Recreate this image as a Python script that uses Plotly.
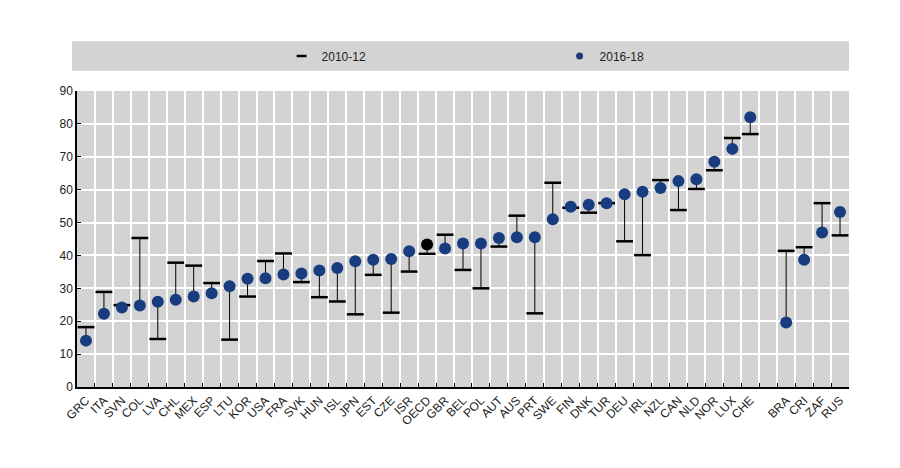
import plotly.graph_objects as go

countries = ["GRC", "ITA", "SVN", "COL", "LVA", "CHL", "MEX", "ESP", "LTU", "KOR",
             "USA", "FRA", "SVK", "HUN", "ISL", "JPN", "EST", "CZE", "ISR", "OECD",
             "GBR", "BEL", "POL", "AUT", "AUS", "PRT", "SWE", "FIN", "DNK", "TUR",
             "DEU", "IRL", "NZL", "CAN", "NLD", "NOR", "LUX", "CHE",
             "BRA", "CRI", "ZAF", "RUS"]
v2010_12 = [18.2, 28.9, 24.9, 45.3, 14.6, 37.8, 36.9, 31.6, 14.4, 27.5,
            38.3, 40.6, 31.9, 27.3, 26.0, 22.1, 34.1, 22.6, 35.1, 40.5,
            46.3, 35.6, 30.0, 42.7, 52.1, 22.4, 62.1, 54.5, 53.0, 55.9,
            44.3, 40.1, 62.9, 53.8, 60.2, 65.9, 75.7, 76.9,
            41.4, 42.5, 55.9, 46.1]
v2016_18 = [14.1, 22.3, 24.2, 24.8, 25.9, 26.5, 27.5, 28.5, 30.6, 32.9,
            33.1, 34.2, 34.5, 35.4, 36.2, 38.2, 38.7, 38.9, 41.3, 43.3,
            42.1, 43.6, 43.6, 45.3, 45.5, 45.5, 51.0, 54.8, 55.4, 55.9,
            58.6, 59.4, 60.5, 62.6, 63.2, 68.5, 72.4, 82.0,
            19.6, 38.7, 47.0, 53.2]
category_order = countries[:38] + [" "] + countries[38:]

NAVY = "#173c80"
dot_colors = ["#000000" if c == "OECD" else NAVY for c in countries]

lx, ly = [], []
for c, a, b in zip(countries, v2010_12, v2016_18):
    lx += [c, c, None]
    ly += [a, b, None]

fig = go.Figure()
fig.add_trace(go.Scatter(x=lx, y=ly, mode="lines", line=dict(color="#000000", width=1),
                         showlegend=False, hoverinfo="skip"))
fig.add_trace(go.Scatter(x=countries, y=v2010_12, mode="markers", name="2010-12",
                         marker=dict(symbol="line-ew-open", size=12, color="#000000",
                                     line=dict(color="#000000", width=2.5)),
                         showlegend=False))
fig.add_trace(go.Scatter(x=countries, y=v2016_18, mode="markers", name="2016-18",
                         marker=dict(symbol="circle", size=12, color=dot_colors,
                                     line=dict(width=0)),
                         showlegend=False))
# legend entries
fig.add_trace(go.Scatter(x=[None], y=[None], mode="markers", name="2010-12",
                         marker=dict(symbol="line-ew-open", size=7, color="#000000",
                                     line=dict(color="#000000", width=2.5))))
fig.add_trace(go.Scatter(x=[None], y=[None], mode="markers", name="2016-18",
                         marker=dict(symbol="circle", size=7, color=NAVY)))

FONT = "Liberation Sans Narrow, Arial Narrow, Liberation Sans, Arial, sans-serif"

fig.add_shape(type="rect", xref="paper", yref="paper",
              x0=-0.0065, x1=1.0, y0=1.068, y1=1.168,
              fillcolor="#d3d3d3", line=dict(width=0), layer="below")

fig.update_layout(
    width=900, height=468,
    margin=dict(l=77, r=51, t=91, b=81),
    paper_bgcolor="#ffffff",
    plot_bgcolor="#d3d3d3",
    font=dict(family=FONT, size=12, color="#222222"),
    legend=dict(orientation="h", x=0.265, xanchor="left", y=1.118, yanchor="middle",
                bgcolor="rgba(0,0,0,0)", entrywidth=233, entrywidthmode="pixels",
                itemwidth=30, tracegroupgap=0,
                font=dict(family=FONT, size=12, color="#222222")),
    xaxis=dict(type="category", categoryorder="array", categoryarray=category_order,
               range=[-0.5, len(category_order) - 0.5],
               tickson="boundaries", ticks="inside", ticklen=4, tickcolor="#000000",
               showgrid=True, gridcolor="#ffffff", gridwidth=2,
               showline=True, linecolor="#000000", linewidth=1.5,
               tickangle=-45, tickfont=dict(family=FONT, size=12, color="#222222")),
    yaxis=dict(range=[0, 90], dtick=10, ticks="inside", ticklen=4, tickcolor="#000000",
               showgrid=True, gridcolor="#ffffff", gridwidth=2,
               showline=True, linecolor="#000000", linewidth=1.5, zeroline=False,
               tickfont=dict(family=FONT, size=12, color="#222222")),
)

fig.write_html("out.html")
